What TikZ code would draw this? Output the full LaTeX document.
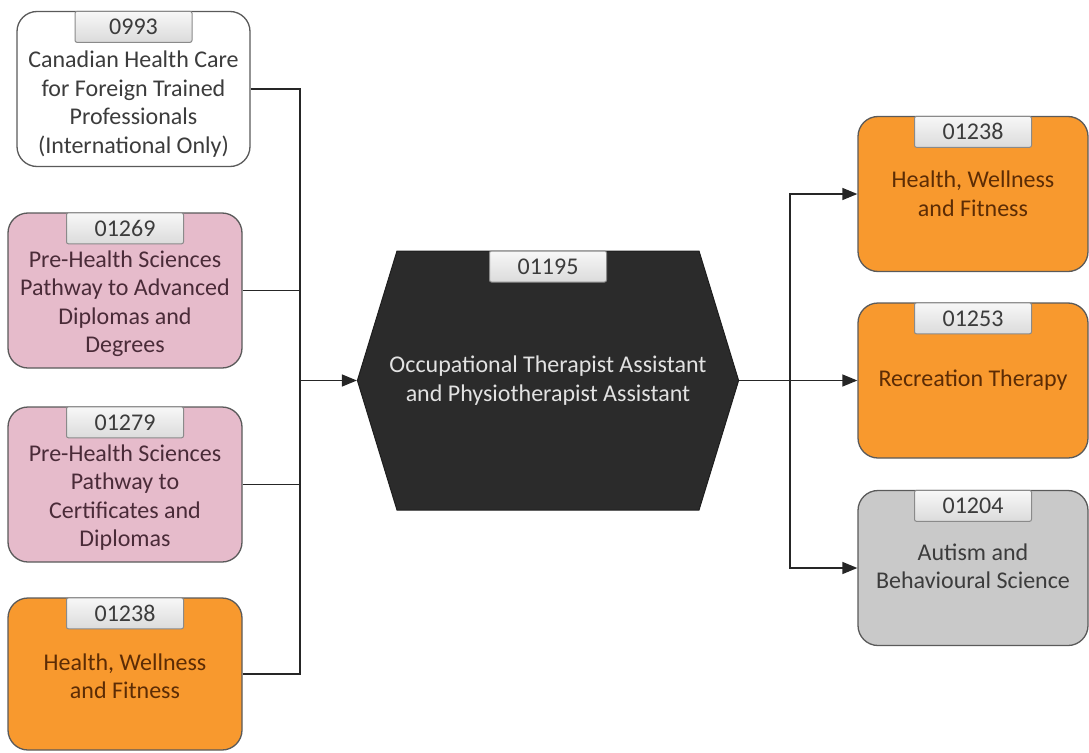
\documentclass[tikz,border=0pt]{standalone}
\usepackage{fontspec}
\setmainfont{Carlito}
\usetikzlibrary{arrows.meta,shapes.symbols}
\definecolor{pinkfill}{HTML}{E6BBCB}
\definecolor{orangefill}{HTML}{F8992E}
\definecolor{grayfill}{HTML}{C9C9C9}
\definecolor{hexfill}{HTML}{2B2B2B}
\definecolor{boxline}{HTML}{5A5A5A}
\definecolor{tagline}{HTML}{8A8A8A}
\definecolor{darktext}{HTML}{3C3C3C}
\definecolor{plumtext}{HTML}{4A2B38}
\definecolor{browntext}{HTML}{5C2C05}
\definecolor{hextext}{HTML}{E2E2E2}
\tikzset{
  prog/.style = {rectangle, rounded corners=20pt, draw=boxline, line width=1.3pt,
    minimum height=155pt, inner sep=0pt},% boite de programme
  prog_w/.style = {prog, fill=white},% programme, blanc
  prog_p/.style = {prog, fill=pinkfill, minimum width=234pt},% programme, rose
  prog_o/.style = {prog, fill=orangefill},% programme, orange
  prog_g/.style = {prog, fill=grayfill, minimum width=230pt},% programme, gris
  txt/.style = {align=center, inner sep=0pt,
    font=\fontsize{24}{28.5}\selectfont},% texte du programme
  code/.style = {rectangle, rounded corners=2pt, draw=tagline, line width=1pt,
    top color=gray!6, bottom color=gray!28, minimum width=117pt,
    minimum height=31pt, inner sep=0pt, anchor=north, text=darktext,
    font=\fontsize{24}{28}\selectfont},% etiquette du code
  hexa/.style = {shape=signal, signal to=west and east, signal pointer angle=146,
    fill=hexfill, draw=hexfill!70!black, line width=1pt,
    minimum height=259pt, inner xsep=-7.5pt, inner ysep=0pt, text=hextext,
    align=center, font=\fontsize{24}{28.5}\selectfont},% programme central
  link/.style = {draw=black!85, line width=1.4pt}% connecteur
}

\begin{document}
\begin{tikzpicture}[x=1pt,y=-1pt,>={Triangle[length=15pt,width=12pt]}]
  \useasboundingbox (0,0) rectangle (1089,752);

  % programmes d'entree
  \node [prog_w, minimum width=233pt] (b1) at (133.5,89) {};
  \node [txt, text=darktext] (b1t) at ([yshift=-15pt]b1.center)
    {Canadian Health Care\\for Foreign Trained\\Professionals\\(International Only)};
  \node [code] (b1c) at (b1.north) {0993};

  \node [prog_p] (b2) at (125,290.5) {};
  \node [txt, text=plumtext] (b2t) at ([yshift=-13pt]b2.center)
    {Pre-Health Sciences\\Pathway to Advanced\\Diplomas and\\Degrees};
  \node [code] (b2c) at (b2.north) {01269};

  \node [prog_p] (b3) at (125,484.5) {};
  \node [txt, text=plumtext] (b3t) at ([yshift=-13pt]b3.center)
    {Pre-Health Sciences\\Pathway to\\Certificates and\\Diplomas};
  \node [code] (b3c) at (b3.north) {01279};

  \node [prog_o, minimum width=234pt, minimum height=152pt] (b4) at (125,674) {};
  \node [txt, text=browntext] (b4t) at ([yshift=-2pt]b4.center)
    {Health, Wellness\\and Fitness};
  \node [code] (b4c) at (b4.north) {01238};

  % programme central
  \node [hexa] (hex) at (548,380.5)
    {Occupational Therapist Assistant\\and Physiotherapist Assistant};
  \node [code] (hexc) at (hex.north) {01195};

  % programmes de sortie
  \node [prog_o, minimum width=230pt] (r1) at (973,194) {};
  \node [txt, text=browntext] (r1t) at (r1.center) {Health, Wellness\\and Fitness};
  \node [code] (r1c) at (r1.north) {01238};

  \node [prog_o, minimum width=230pt] (r2) at (973,380.5) {};
  \node [txt, text=browntext] (r2t) at (r2.center) {Recreation Therapy};
  \node [code] (r2c) at (r2.north) {01253};

  \node [prog_g] (r3) at (973,568) {};
  \node [txt, text=darktext] (r3t) at ([yshift=2pt]r3.center)
    {Autism and\\Behavioural Science};
  \node [code] (r3c) at (r3.north) {01204};

  % connecteurs
  \coordinate (lbus) at (300,380.5);
  \coordinate (rbus) at (790,380.5);
  \foreach \b in {b1,b2,b3,b4}
    \draw [link] (\b.east) -| (lbus);
  \draw [link,->] (lbus) -- (hex.west);
  \draw [link] (hex.east) -- (rbus);
  \foreach \r in {r1,r2,r3}
    \draw [link,->] (rbus) |- (\r.west);
\end{tikzpicture}
\end{document}
